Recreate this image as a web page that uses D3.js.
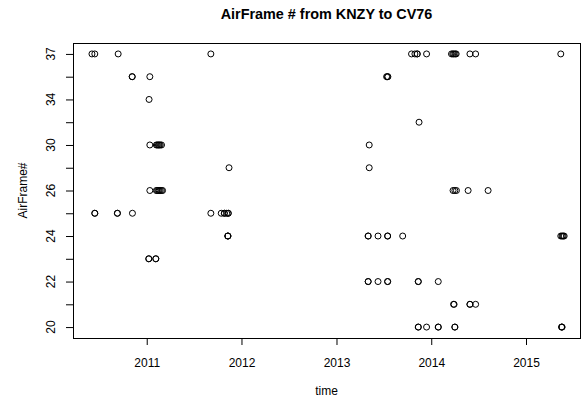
<!DOCTYPE html>
<html><head><meta charset="utf-8">
<script src="https://cdn.jsdelivr.net/npm/d3@7"></script>
<style>
body{margin:0;background:#fff}
svg text{font-family:"Liberation Sans",Arial,Helvetica,sans-serif;fill:#000}
</style>
</head><body><svg id="chart" width="584" height="400"></svg>
<script>
// Y categories (factor levels, bottom to top)
const levels = ["20","21","22","23","24","25","26","28","30","32","34","35","37"];
// X axis ticks and limits
const xTickYears = [2011, 2012, 2013, 2014, 2015];
const xLimits = ["2010-03-23", "2015-07-28"];
const titleText = "AirFrame # from KNZY to CV76";
const xLabel = "time";
const yLabel = "AirFrame#";

// Flight dates per airframe
const dates37 = ["2010-06-04","2010-06-15","2010-09-13","2011-09-05","2013-10-17","2013-10-30","2013-11-08","2013-11-08","2013-12-14","2014-03-20","2014-03-25","2014-03-29","2014-04-03","2014-04-07","2014-05-30","2014-06-21","2015-05-15"];
const dates35 = ["2010-11-06","2010-11-06","2011-01-13","2013-07-13","2013-07-16","2013-07-18"];
const dates34 = ["2011-01-10"];
const dates32 = ["2013-11-15"];
const dates30 = ["2011-01-13","2011-02-07","2011-02-11","2011-02-15","2011-02-18","2011-02-22","2011-02-27","2013-05-07"];
const dates28 = ["2011-11-14","2013-05-07"];
const dates26 = ["2011-01-13","2011-02-07","2011-02-11","2011-02-15","2011-02-18","2011-02-22","2011-02-27","2011-03-03","2014-03-26","2014-04-02","2014-04-08","2014-05-23","2014-08-08"];
const dates25 = ["2010-06-15","2010-06-15","2010-09-10","2010-09-10","2010-11-07","2011-09-05","2011-10-15","2011-10-27","2011-10-27","2011-11-05","2011-11-11","2011-11-11"];
const dates24 = ["2011-11-09","2011-11-10","2011-11-10","2013-05-03","2013-05-03","2013-06-10","2013-07-17","2013-07-17","2013-09-13","2015-05-15","2015-05-20","2015-05-24","2015-05-28"];
const dates23 = ["2011-01-09","2011-01-09","2011-02-05","2011-02-05"];
const dates22 = ["2013-05-03","2013-05-03","2013-06-10","2013-07-17","2013-07-17","2013-11-12","2013-11-12","2014-01-28"];
const dates21 = ["2014-03-28","2014-03-30","2014-05-30","2014-05-30","2014-06-21"];
const dates20 = ["2013-11-12","2013-11-12","2013-12-14","2014-01-28","2014-01-28","2014-04-02","2014-04-02","2015-05-18","2015-05-19","2015-05-20"];

const seriesByLevel = [
  ["37", dates37], ["35", dates35], ["34", dates34], ["32", dates32], ["30", dates30],
  ["28", dates28], ["26", dates26], ["25", dates25], ["24", dates24], ["23", dates23],
  ["22", dates22], ["21", dates21], ["20", dates20]
];

const parse = d3.timeParse("%Y-%m-%d");
const points = [];
seriesByLevel.forEach(([lvl, ds]) => ds.forEach(d => points.push({date: parse(d), level: lvl})));

const plot = {left: 73, right: 580, top: 43, bottom: 338};
const svg = d3.select("#chart");

const x = d3.scaleTime()
  .domain(xLimits.map(parse))
  .range([plot.left, plot.right]);

const pad = (levels.length - 1) * 0.04;
const y = d3.scaleLinear()
  .domain([-pad, levels.length - 1 + pad])
  .range([plot.bottom, plot.top]);

// X axis
const xAxis = d3.axisBottom(x)
  .tickValues(xTickYears.map(yr => new Date(yr, 0, 1)))
  .tickFormat(d3.timeFormat("%Y"))
  .tickSize(7).tickPadding(0);
const gx = svg.append("g").attr("transform", `translate(0,${plot.bottom})`).call(xAxis);
gx.select(".domain").remove();
gx.selectAll(".tick line").attr("stroke", "#000");
gx.selectAll(".tick text").attr("dy", null).attr("y", 28.5)
  .style("font-size", "12px");

// Y axis
const yAxis = d3.axisLeft(y)
  .tickValues(d3.range(levels.length))
  .tickFormat("")
  .tickSize(7);
const gy = svg.append("g").attr("transform", `translate(${plot.left},0)`).call(yAxis);
gy.select(".domain").remove();
gy.selectAll(".tick line").attr("stroke", "#000");

svg.append("g").selectAll("text")
  .data(levels.map((l, i) => ({l, i})).filter(d => d.i % 2 === 0))
  .join("text")
  .attr("transform", d => `translate(55,${y(d.i)}) rotate(-90)`)
  .attr("text-anchor", "middle")
  .style("font-size", "12px")
  .text(d => d.l);

// Box
svg.append("rect")
  .attr("x", plot.left + 0.5).attr("y", plot.top + 0.5)
  .attr("width", plot.right - plot.left).attr("height", plot.bottom - plot.top)
  .attr("fill", "none").attr("stroke", "#000").attr("stroke-width", 1);

// Points
svg.append("g").selectAll("circle")
  .data(points)
  .join("circle")
  .attr("cx", d => x(d.date))
  .attr("cy", d => y(levels.indexOf(d.level)))
  .attr("r", 3)
  .attr("fill", "none")
  .attr("stroke", "#000")
  .attr("stroke-width", 1);

// Titles
svg.append("text")
  .attr("x", (plot.left + plot.right) / 2).attr("y", 19)
  .attr("text-anchor", "middle")
  .style("font-size", "14.4px").style("font-weight", "bold")
  .text(titleText);

svg.append("text")
  .attr("x", (plot.left + plot.right) / 2).attr("y", 395)
  .attr("text-anchor", "middle")
  .style("font-size", "12px")
  .text(xLabel);

svg.append("text")
  .attr("transform", `translate(27,${(plot.top + plot.bottom) / 2}) rotate(-90)`)
  .attr("text-anchor", "middle")
  .style("font-size", "12px")
  .text(yLabel);
</script>
</body></html>
